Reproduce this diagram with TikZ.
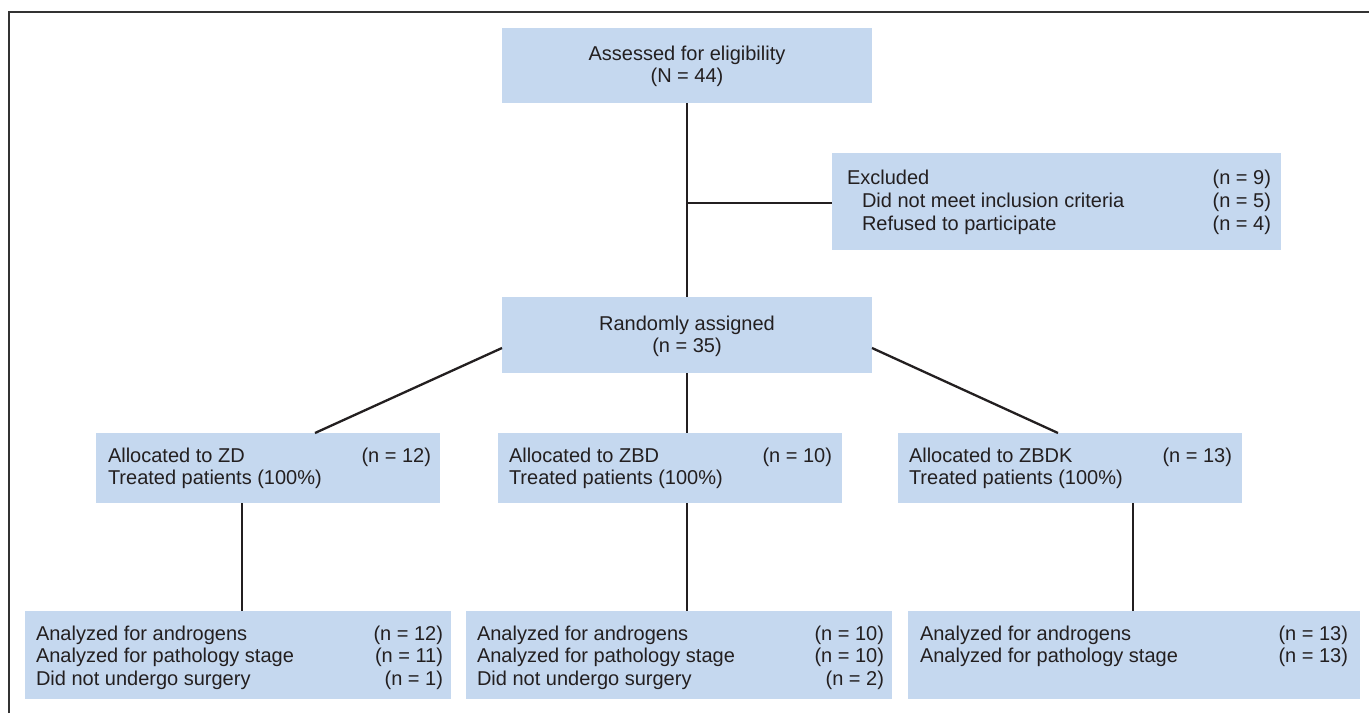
\documentclass[tikz,border=0pt]{standalone}
\usepackage{fontspec}
\setmainfont{Liberation Sans}
\definecolor{boxc}{HTML}{C5D8EF}
\definecolor{ink}{HTML}{231F20}
\begin{document}
\begin{tikzpicture}[x=1pt,y=-1pt,
  box/.style={fill=boxc, draw=none, inner sep=0pt, outer sep=0pt},
  txt/.style={inner sep=0pt, outer sep=0pt, text=ink, font=\fontsize{20}{23}\selectfont},
  lt/.style={txt, anchor=base west},
  rt/.style={txt, anchor=base east},
  ct/.style={txt, anchor=base},
  link/.style={draw=ink, line width=2.3pt},
  frame/.style={draw=black!80, line width=2.3pt}]
\useasboundingbox (0,0) rectangle (1369,713);
\fill[white] (0,0) rectangle (1369,713);
\draw[frame] (9,713) -- (9,12) -- (1369,12);

% boxes
\node[box, minimum width=370pt, minimum height=75pt] (top) at (687,65.5) {};
\node[box, minimum width=449pt, minimum height=97pt] (excl) at (1056.5,201.5) {};
\node[box, minimum width=370pt, minimum height=76pt] (rand) at (687,335) {};
\node[box, minimum width=344pt, minimum height=70pt] (zd) at (268,468) {};
\node[box, minimum width=344pt, minimum height=70pt] (zbd) at (670,468) {};
\node[box, minimum width=344pt, minimum height=70pt] (zbdk) at (1070,468) {};
\node[box, minimum width=426pt, minimum height=88pt] (a1) at (238,655) {};
\node[box, minimum width=426pt, minimum height=88pt] (a2) at (679,655) {};
\node[box, minimum width=452pt, minimum height=88pt] (a3) at (1134,655) {};

% connectors
\draw[link] (top) -- (rand);
\coordinate (j) at (687,203);
\draw[link] (j) -- (j -| excl.west);
\draw[link] ([yshift=-13pt]rand.west) -- ([xshift=47pt]zd.north);
\draw[link] ([yshift=-13pt]rand.east) -- ([xshift=-12pt]zbdk.north);
\draw[link] (rand.south) -- (rand.south |- zbd.north);
\draw[link] ([xshift=-26pt]zd.south) coordinate (d1) -- (d1 |- a1.north);
\draw[link] ([xshift=17pt]zbd.south) coordinate (d2) -- (d2 |- a2.north);
\draw[link] ([xshift=63pt]zbdk.south) coordinate (d3) -- (d3 |- a3.north);

% texts
\node[ct] (topa) at (687,60) {Assessed for eligibility};
\node[ct] (topb) at (687,82) {(N = 44)};

\node[lt] (exa) at (847,184) {Excluded};
\node[lt] (exb) at (862,207) {Did not meet inclusion criteria};
\node[lt] (exc) at (862,230) {Refused to participate};
\node[rt] (exan) at (1271,184) {(n = 9)};
\node[rt] (exbn) at (1271,207) {(n = 5)};
\node[rt] (excn) at (1271,230) {(n = 4)};

\node[ct] (randa) at (687,330) {Randomly assigned};
\node[ct] (randb) at (687,352) {(n = 35)};

\node[lt] (zda) at (108,462) {Allocated to ZD};
\node[lt] (zdb) at (108,484) {Treated patients (100\%)};
\node[rt] (zdn) at (431,462) {(n = 12)};
\node[lt] (zbda) at (509,462) {Allocated to ZBD};
\node[lt] (zbdb) at (509,484) {Treated patients (100\%)};
\node[rt] (zbdn) at (832,462) {(n = 10)};
\node[lt] (zbdka) at (909,462) {Allocated to ZBDK};
\node[lt] (zbdkb) at (909,484) {Treated patients (100\%)};
\node[rt] (zbdkn) at (1232,462) {(n = 13)};

\node[lt] (a1a) at (36,640) {Analyzed for androgens};
\node[lt] (a1b) at (36,662) {Analyzed for pathology stage};
\node[lt] (a1c) at (36,685) {Did not undergo surgery};
\node[rt] (a1an) at (443,640) {(n = 12)};
\node[rt] (a1bn) at (443,662) {(n = 11)};
\node[rt] (a1cn) at (443,685) {(n = 1)};

\node[lt] (a2a) at (477,640) {Analyzed for androgens};
\node[lt] (a2b) at (477,662) {Analyzed for pathology stage};
\node[lt] (a2c) at (477,685) {Did not undergo surgery};
\node[rt] (a2an) at (884,640) {(n = 10)};
\node[rt] (a2bn) at (884,662) {(n = 10)};
\node[rt] (a2cn) at (884,685) {(n = 2)};

\node[lt] (a3a) at (920,640) {Analyzed for androgens};
\node[lt] (a3b) at (920,662) {Analyzed for pathology stage};
\node[rt] (a3an) at (1348,640) {(n = 13)};
\node[rt] (a3bn) at (1348,662) {(n = 13)};
\end{tikzpicture}
\end{document}
